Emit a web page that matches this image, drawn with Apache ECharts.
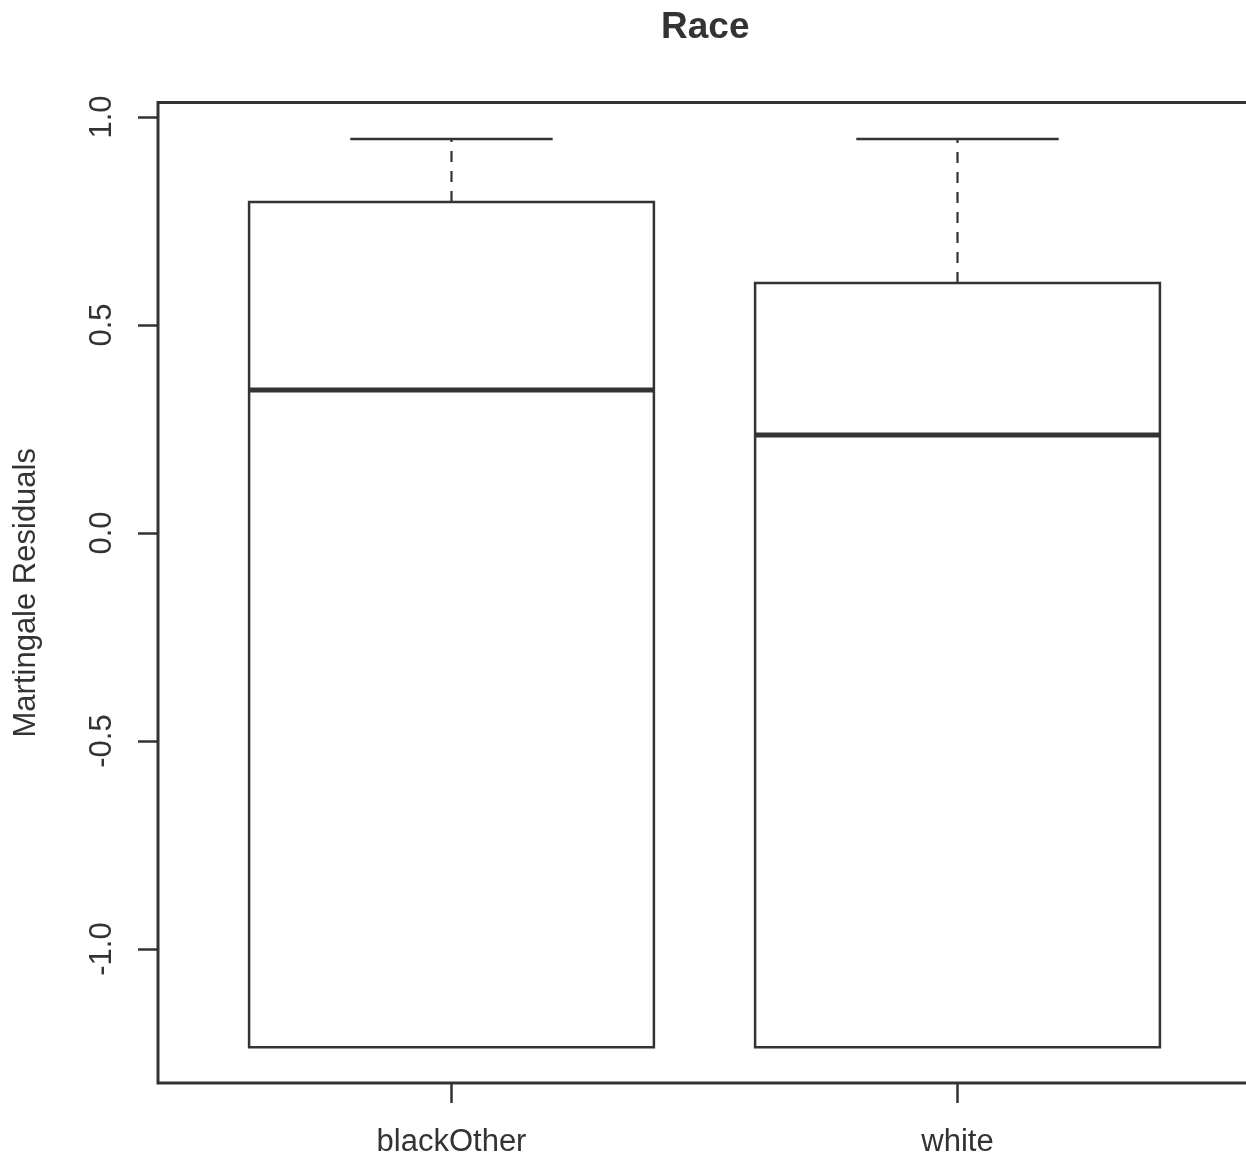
<!DOCTYPE html>
<html>
<head>
<meta charset="utf-8">
<style>
  html, body { margin: 0; padding: 0; background: #ffffff; }
  #chart { width: 1246px; height: 1162px; }
</style>
<script src="https://cdn.jsdelivr.net/npm/echarts@6/dist/echarts.min.js"></script>
</head>
<body>
<div id="chart"></div>
<script>
// Martingale residuals by race group (box-and-whisker summary)
const categories = ['blackOther', 'white'];
const lowerWhisker = [-1.236, -1.236];
const lowerQuartile = [-1.236, -1.236];
const medians = [0.344, 0.236];
const upperQuartile = [0.796, 0.601];
const upperWhisker = [0.947, 0.947];
const yTicks = [-1.0, -0.5, 0.0, 0.5, 1.0];
const xTicks = [1, 2];

const INK = '#333333';
const FONT = '"Liberation Sans", Arial, sans-serif';

const boxData = categories.map((c, i) => [
  i + 1, lowerWhisker[i], lowerQuartile[i], medians[i], upperQuartile[i], upperWhisker[i]
]);

function renderBox(params, api) {
  const x = api.value(0);
  const lo = api.value(1), q1 = api.value(2), med = api.value(3), q3 = api.value(4), hi = api.value(5);
  const halfBox = 0.4, halfCap = 0.2;
  const pLeft = api.coord([x - halfBox, q3]);
  const pRight = api.coord([x + halfBox, q1]);
  const pMedL = api.coord([x - halfBox, med]);
  const pMedR = api.coord([x + halfBox, med]);
  const pQ3 = api.coord([x, q3]);
  const pHi = api.coord([x, hi]);
  const pQ1 = api.coord([x, q1]);
  const pLo = api.coord([x, lo]);
  const capHiL = api.coord([x - halfCap, hi]);
  const capHiR = api.coord([x + halfCap, hi]);
  const capLoL = api.coord([x - halfCap, lo]);
  const capLoR = api.coord([x + halfCap, lo]);
  const children = [
    {
      type: 'line',
      shape: { x1: pQ3[0], y1: pQ3[1], x2: pHi[0], y2: pHi[1] },
      style: { stroke: INK, lineWidth: 2.2, lineDash: [11, 9], fill: null }
    },
    {
      type: 'line',
      shape: { x1: capHiL[0], y1: capHiL[1], x2: capHiR[0], y2: capHiR[1] },
      style: { stroke: INK, lineWidth: 2.5 }
    },
    {
      type: 'rect',
      shape: { x: pLeft[0], y: pLeft[1], width: pRight[0] - pLeft[0], height: pRight[1] - pLeft[1] },
      style: { stroke: INK, lineWidth: 2.5, fill: '#ffffff' }
    },
    {
      type: 'line',
      shape: { x1: pMedL[0], y1: pMedL[1], x2: pMedR[0], y2: pMedR[1] },
      style: { stroke: INK, lineWidth: 5 }
    }
  ];
  if (lo < q1) {
    children.push(
      {
        type: 'line',
        shape: { x1: pQ1[0], y1: pQ1[1], x2: pLo[0], y2: pLo[1] },
        style: { stroke: INK, lineWidth: 2.2, lineDash: [11, 9] }
      },
      {
        type: 'line',
        shape: { x1: capLoL[0], y1: capLoL[1], x2: capLoR[0], y2: capLoR[1] },
        style: { stroke: INK, lineWidth: 2.5 }
      }
    );
  }
  return { type: 'group', children: children };
}

const chart = echarts.init(document.getElementById('chart'), null, { renderer: 'canvas' });
chart.setOption({
  backgroundColor: '#ffffff',
  animation: false,
  title: {
    text: 'Race',
    left: 656,
    top: 4,
    textStyle: { fontFamily: FONT, fontSize: 37, fontWeight: 'bold', color: INK }
  },
  grid: {
    left: 158,
    top: 102.5,
    width: 1093,
    height: 980.5,
    outerBoundsMode: 'none',
    containLabel: false,
    show: true,
    borderColor: INK,
    borderWidth: 3,
    backgroundColor: 'transparent'
  },
  xAxis: {
    type: 'value',
    min: 0.42,
    max: 2.58,
    axisLine: { show: false, onZero: false },
    splitLine: { show: false },
    axisTick: {
      show: true,
      customValues: xTicks,
      length: 20,
      lineStyle: { color: INK, width: 2.5 }
    },
    axisLabel: {
      show: true,
      customValues: xTicks,
      margin: 44,
      fontFamily: FONT,
      fontSize: 31,
      color: INK,
      formatter: v => categories[Math.round(v) - 1]
    }
  },
  yAxis: {
    type: 'value',
    min: -1.322,
    max: 1.035,
    name: 'Martingale Residuals',
    nameLocation: 'middle',
    nameRotate: 90,
    nameGap: 116,
    nameTextStyle: { fontFamily: FONT, fontSize: 31, color: INK },
    axisLine: { show: false, onZero: false },
    splitLine: { show: false },
    axisTick: {
      show: true,
      customValues: yTicks,
      length: 20,
      lineStyle: { color: INK, width: 2.5 }
    },
    axisLabel: {
      show: true,
      customValues: yTicks,
      rotate: 90,
      margin: 40,
      fontFamily: FONT,
      fontSize: 31,
      color: INK,
      formatter: v => v.toFixed(1)
    }
  },
  series: [{
    type: 'custom',
    name: 'Martingale Residuals',
    renderItem: renderBox,
    encode: { x: 0, y: [1, 2, 3, 4, 5] },
    data: boxData,
    clip: false
  }]
});
</script>
</body>
</html>
